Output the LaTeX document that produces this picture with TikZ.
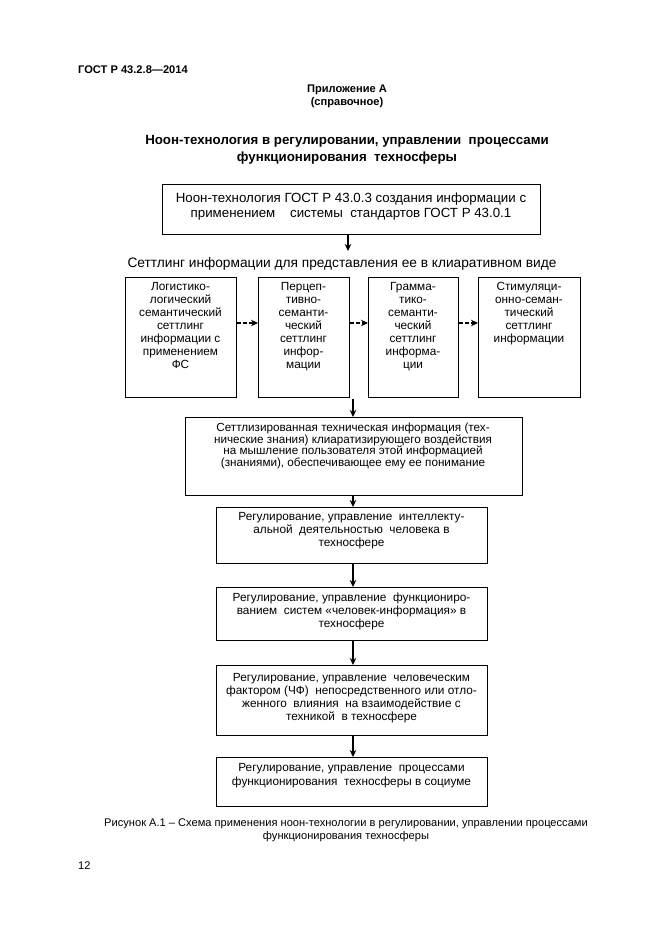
\documentclass[tikz,border=0pt]{standalone}
\usepackage{fontspec}
\setmainfont{Liberation Sans}
\usetikzlibrary{arrows.meta}
\begin{document}
\begin{tikzpicture}[x=1pt,y=-1pt,
  box/.style={draw, line width=1.2pt, inner sep=0pt, anchor=north west},
  txt/.style={align=center, inner sep=0pt, anchor=north},
  fbox/.style={font=\fontsize{11.8}{13}\selectfont},
  fs/.style={font=\fontsize{11.7}{11.5}\selectfont},
  arr/.style={line width=1.8pt, -{Stealth[length=7pt,width=6.5pt]}},
  darr/.style={line width=1.8pt, dash pattern=on 3.5pt off 2.5pt, -{Stealth[length=7pt,width=6.5pt]}}]
\useasboundingbox[fill=white] (0,0) rectangle (661,936);

% header texts
\node[anchor=base west, inner sep=0pt, font=\fontsize{11.1}{13}\selectfont\bfseries] (hdr) at (78,73.5) {ГОСТ Р 43.2.8—2014};
\node[txt, font=\fontsize{11.1}{13}\selectfont\bfseries] (app) at (347,84.4) {Приложение А\\(справочное)};
\node[txt, font=\fontsize{13.3}{17}\selectfont\bfseries] (title) at (347,135.5) {Ноон-технология в регулировании, управлении\ \ процессами\\функционирования\ \ техносферы};

% top box
\node[box, minimum width=378pt, minimum height=50pt] (top) at (162,184) {};
\node[txt, font=\fontsize{13.3}{15}\selectfont] (toptxt) at (351,192.3) {Ноон-технология ГОСТ Р 43.0.3 создания информации с\\применением\ \ \ \ системы\ \ стандартов ГОСТ Р 43.0.1};

\node[anchor=base, inner sep=0pt, font=\fontsize{13.7}{15}\selectfont] (lbl) at (342,267) {Сеттлинг информации для представления ее в клиаративном виде};
\coordinate (a1) at (348,251);
\draw[arr] (top.south -| a1) -- (a1);

% row of four boxes
\node[box, minimum width=111pt, minimum height=120pt] (B1) at (125,277) {};
\node[box, minimum width=91pt, minimum height=120pt] (B2) at (258,277) {};
\node[box, minimum width=90pt, minimum height=120pt] (B3) at (368,277) {};
\node[box, minimum width=102pt, minimum height=120pt] (B4) at (478,277) {};

\node[txt, fbox] (t1) at (180.5,282) {Логистико-\\логический\\семантический\\сеттлинг\\информации с\\применением\\ФС};
\node[txt, fbox] (t2) at (303.5,282) {Перцеп-\\тивно-\\семанти-\\ческий\\сеттлинг\\инфор-\\мации};
\node[txt, fbox] (t3) at (413,282) {Грамма-\\тико-\\семанти-\\ческий\\сеттлинг\\информа-\\ции};
\node[txt, fbox] (t4) at (529,282) {Стимуляци-\\онно-семан-\\тический\\сеттлинг\\информации};

\coordinate (dy) at (0,323);
\draw[darr] (B1.east |- dy) -- (B2.west |- dy);
\draw[darr] (B2.east |- dy) -- (B3.west |- dy);
\draw[darr] (B3.east |- dy) -- (B4.west |- dy);

% settled information box
\node[box, minimum width=337pt, minimum height=78pt] (S) at (185,417) {};
\node[txt, fs] (st) at (353,423) {Сеттлизированная техническая информация (тех-\\нические знания) клиаратизирующего воздействия\\на мышление пользователя этой информацией\\(знаниями), обеспечивающее ему ее понимание};
\coordinate (cx) at (353,399);
\draw[arr] (cx) -- (S.north -| cx);

% regulation boxes
\node[box, minimum width=271pt, minimum height=56pt] (R1) at (216,507) {};
\node[txt, fbox] (r1t) at (351.5,512) {Регулирование, управление\ \ интеллекту-\\альной\ \ деятельностью\ \ человека в\\техносфере};
\node[box, minimum width=271pt, minimum height=53pt] (R2) at (216,587) {};
\node[txt, fbox] (r2t) at (351.5,593) {Регулирование, управление\ \ функциониро-\\ванием\ \ систем «человек-информация» в\\техносфере};
\node[box, minimum width=271pt, minimum height=70pt] (R3) at (216,665) {};
\node[txt, fbox] (r3t) at (351.5,673) {Регулирование, управление\ \ человеческим\\фактором (ЧФ)\ \ непосредственного или отло-\\женного\ \ влияния\ \ на взаимодействие с\\техникой\ \ в техносфере};
\node[box, minimum width=271pt, minimum height=49pt] (R4) at (216,757) {};
\node[txt, font=\fontsize{11.8}{14}\selectfont] (r4t) at (351.5,763) {Регулирование, управление\ \ процессами\\функционирования\ \ техносферы в социуме};

\draw[arr] (S.south -| cx) -- (R1.north -| cx);
\draw[arr] (R1.south -| cx) -- (R2.north -| cx);
\draw[arr] (R2.south -| cx) -- (R3.north -| cx);
\draw[arr] (R3.south -| cx) -- (R4.north -| cx);

% caption and page number
\node[txt, font=\fontsize{11.1}{13}\selectfont] (cap) at (346,818.5) {Рисунок А.1 – Схема применения ноон-технологии в регулировании, управлении процессами\\функционирования техносферы};
\node[anchor=base west, inner sep=0pt, font=\fontsize{11.1}{13}\selectfont] (pg) at (78,869.5) {12};
\end{tikzpicture}
\end{document}
